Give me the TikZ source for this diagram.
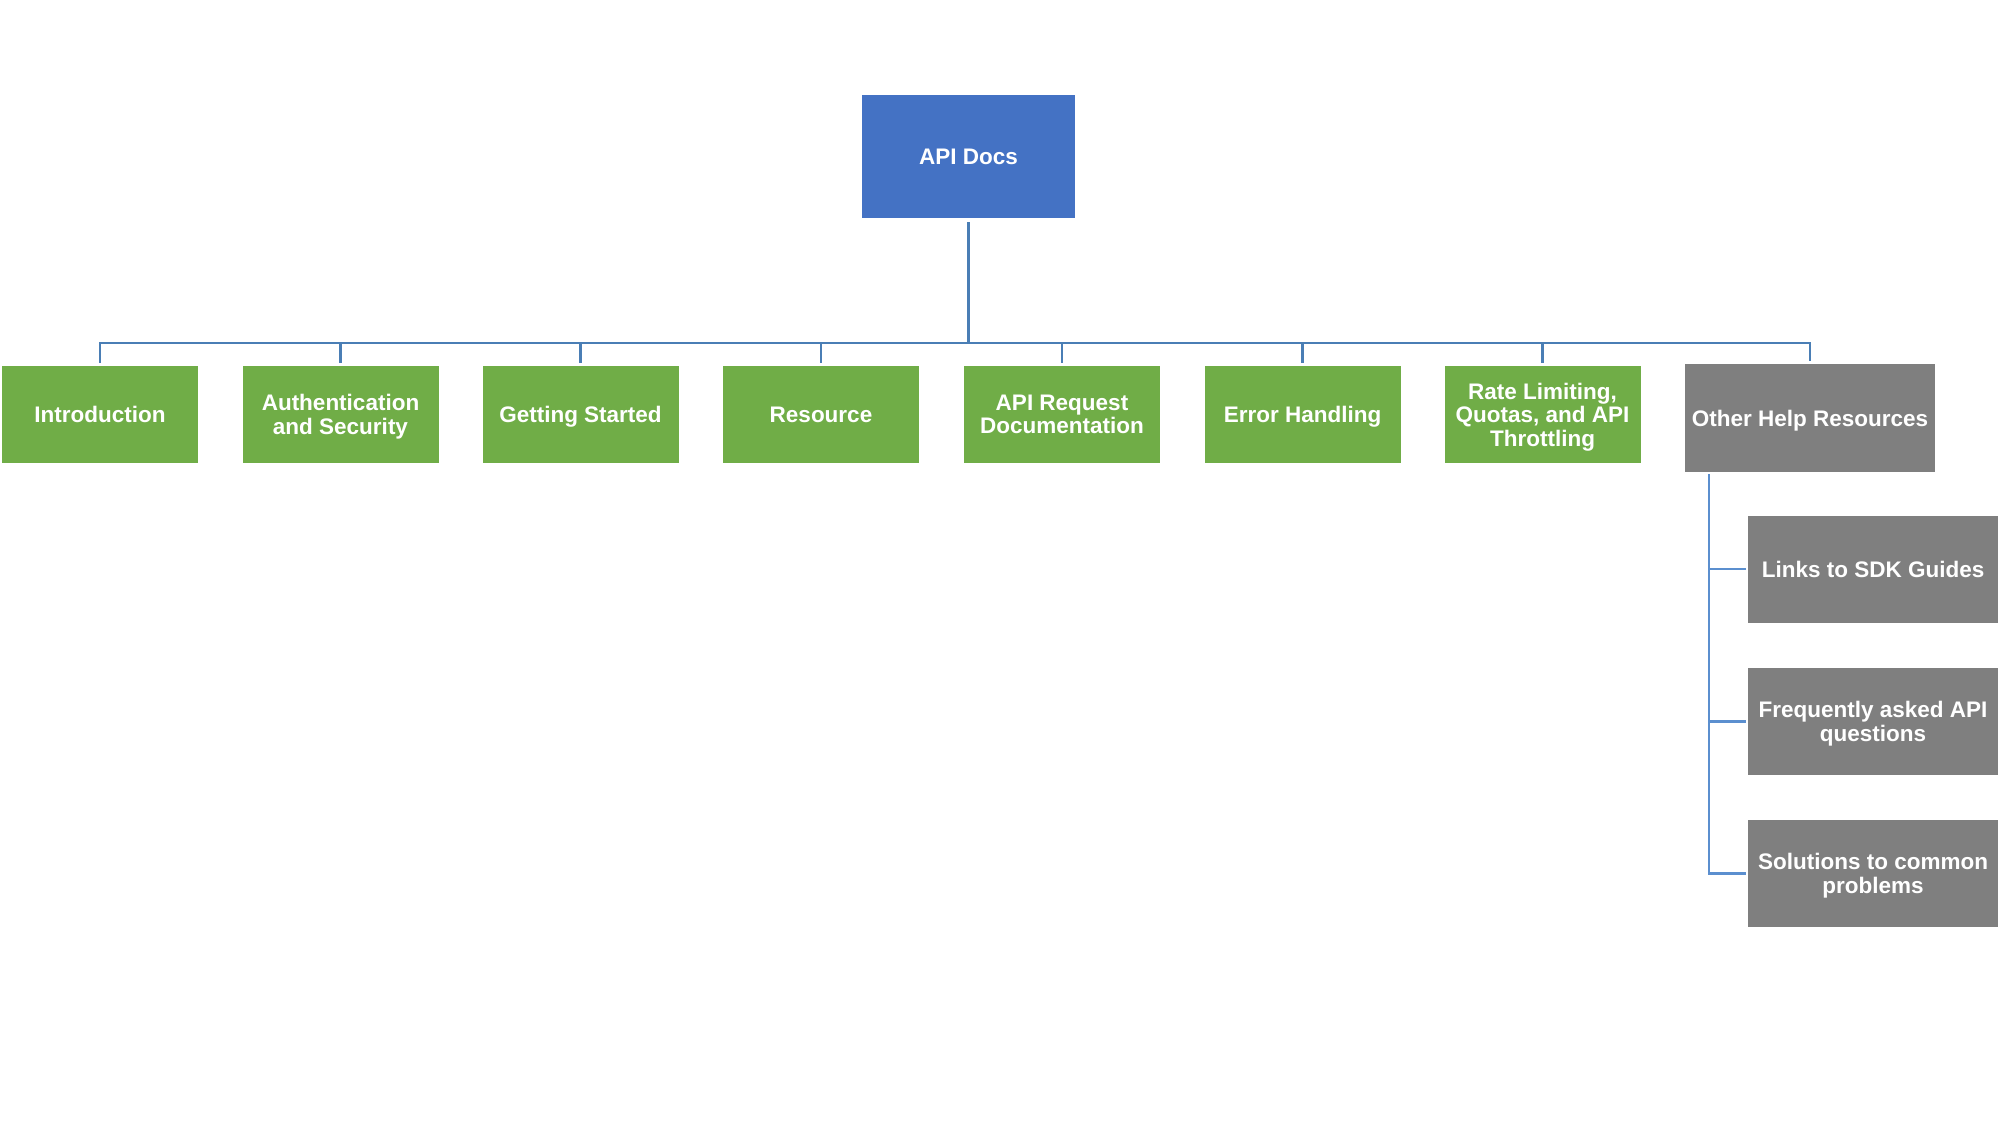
\documentclass[tikz,border=0pt]{standalone}
\usepackage{fontspec}
\setmainfont{Liberation Sans}
\usetikzlibrary{calc}
\begin{document}
\begin{tikzpicture}[x=1pt,y=-1pt,
  box/.style={draw=none,inner sep=0pt,align=center,text=white,text depth=0pt,
    font=\fontsize{22.5}{23.5}\selectfont\bfseries},
  rootbox/.style={box,fill=rootblue,minimum width=213pt,minimum height=123pt},
  greenbox/.style={box,fill=boxgreen,minimum width=196pt,minimum height=97pt},
  graybox/.style={box,fill=boxgray,minimum width=250pt,minimum height=108pt},
  subbox/.style={box,fill=boxgray,minimum width=250pt,minimum height=107pt},
  conn/.style={draw=linkblue,line width=2.2pt},
  subconn/.style={draw=sublinkblue,line width=2.2pt}]
\definecolor{rootblue}{HTML}{4472C4}
\definecolor{boxgreen}{HTML}{70AD47}
\definecolor{boxgray}{HTML}{7F7F7F}
\definecolor{linkblue}{HTML}{4A7EB5}
\definecolor{sublinkblue}{HTML}{5B8FCF}
\useasboundingbox (0,0) rectangle (2010,1125);

\node[rootbox] (root) at (968.5,156.5) {API Docs};

\node[greenbox] (intro) at (100,414.5) {Introduction};
\node[greenbox] (auth) at (340.5,414.5) {Authentication\\and Security};
\node[greenbox] (start) at (580.5,414.5) {Getting Started};
\node[greenbox] (res) at (821,414.5) {Resource};
\node[greenbox] (req) at (1062,414.5) {API Request\\Documentation};
\node[greenbox] (err) at (1302.5,414.5) {Error Handling};
\node[greenbox] (rate) at (1542.5,414.5) {Rate Limiting,\\Quotas, and API\\Throttling};
\node[graybox] (other) at (1810,418) {Other Help Resources};

\node[subbox] (links) at (1873,569) {Links to SDK Guides};
\node[subbox] (faq) at (1873,721.5) {Frequently asked API\\questions};
\node[subbox] (sol) at (1873,873.5) {Solutions to common\\problems};

\coordinate (bus) at (968.5,343);
\draw[conn,shorten <=4pt] (root.south) -- (bus);
\foreach \n in {intro,auth,start,res,req,err,rate,other}
  \draw[conn,shorten >=2.5pt] (bus) -| (\n.north);

\coordinate (trunk) at ($(other.south west)+(24,2)$);
\foreach \n in {links,faq,sol}
  \draw[subconn,shorten >=2pt] (trunk) |- (\n.west);
\end{tikzpicture}
\end{document}
